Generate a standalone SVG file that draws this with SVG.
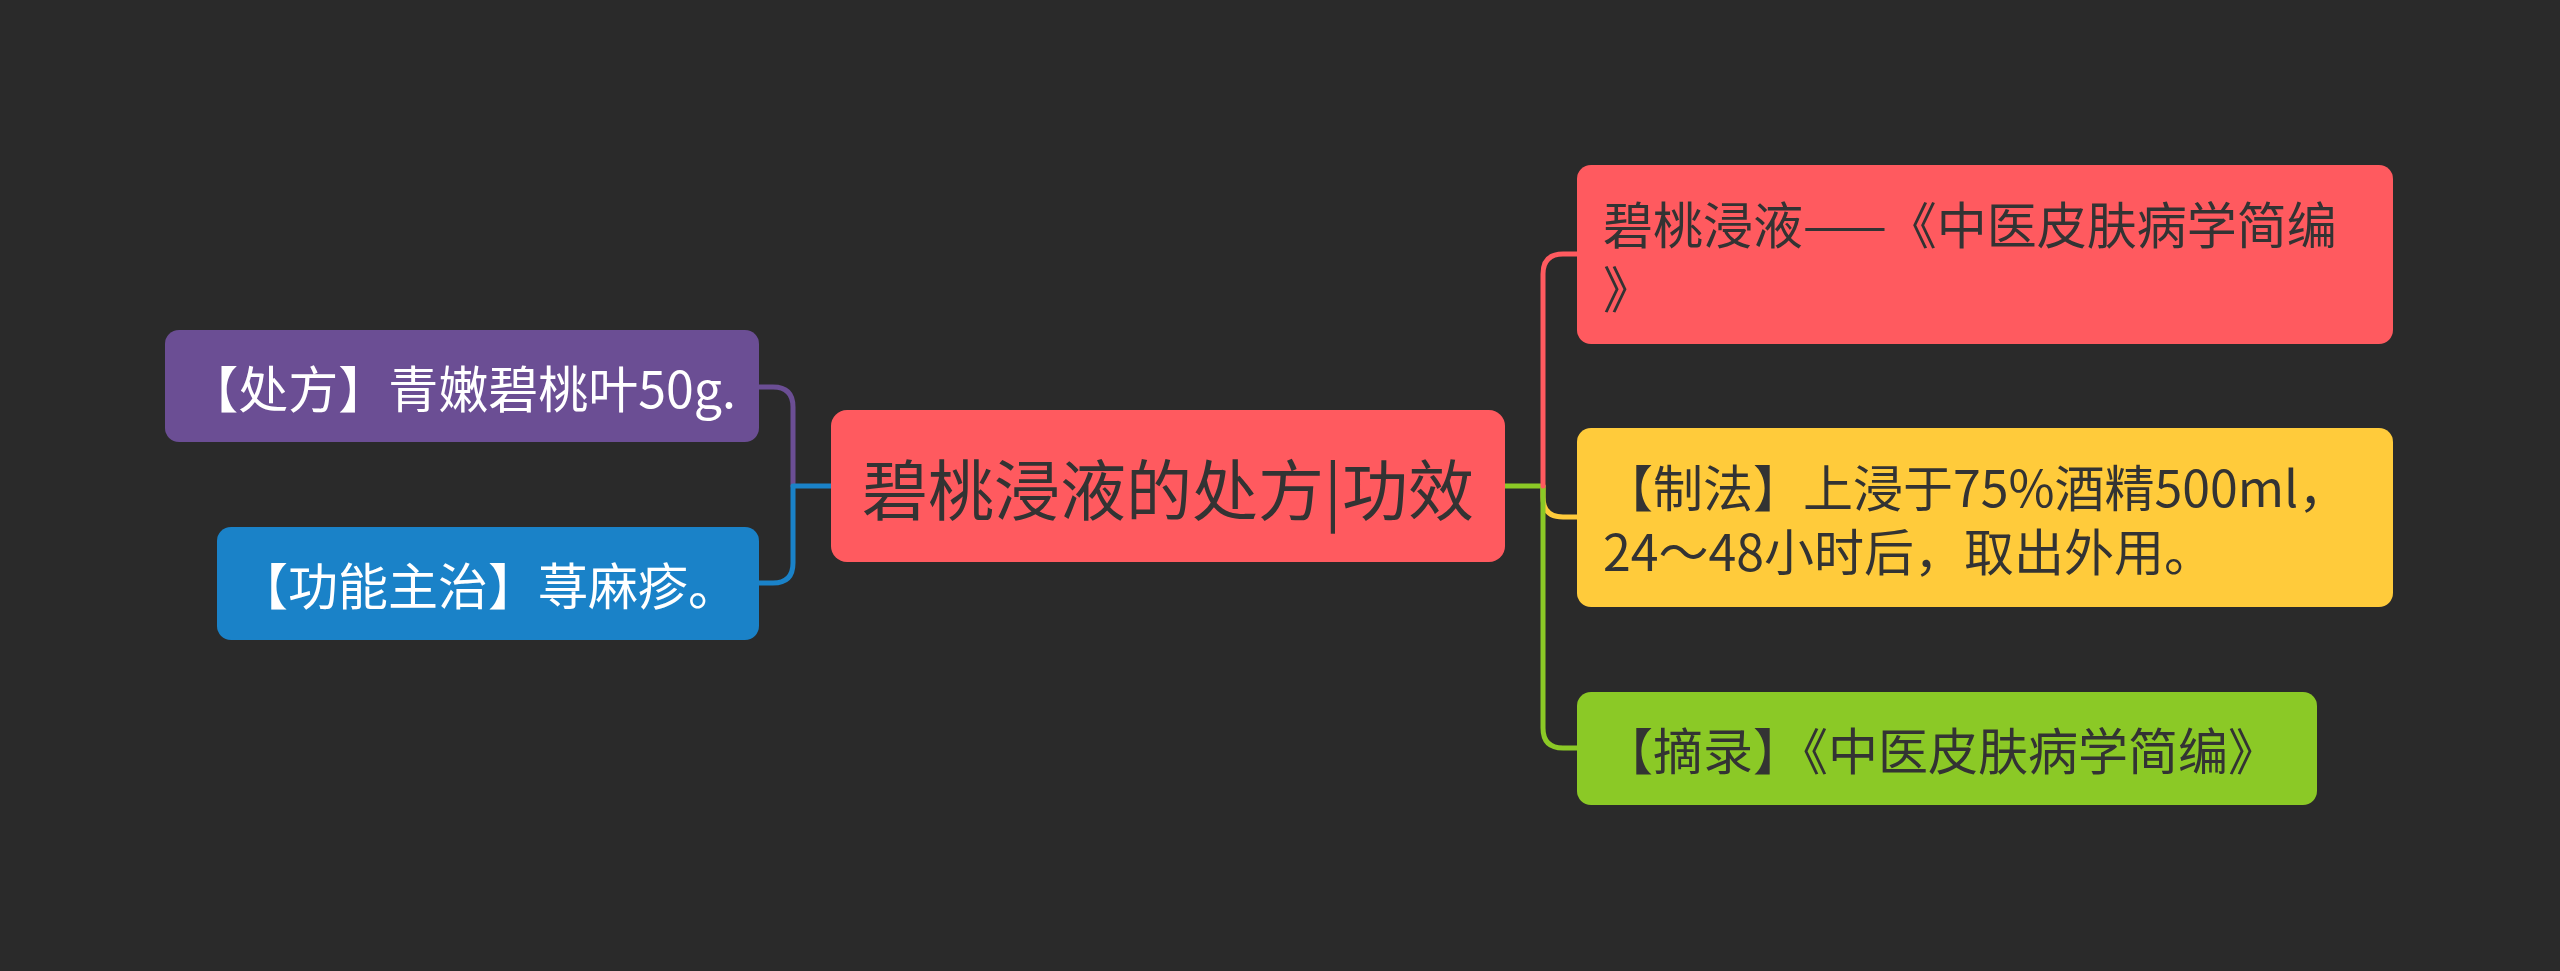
<svg xmlns="http://www.w3.org/2000/svg" width="2560" height="971" viewBox="0 0 2560 971">
<style>
text{font-family:"Noto Sans CJK SC","Noto Sans",sans-serif;dominant-baseline:central}
.t{font-size:50px}
.dark{fill:#333333}
.light{fill:#ffffff}
.c{fill:none;stroke-width:5;stroke-linecap:round;stroke-linejoin:round}
</style>
<rect width="2560" height="971" fill="#2a2a2a"/>
<g id="connectors">
<path class="c" stroke="#6b4e94" d="M793,486 L793,407 Q793,387 773,387 L759,387"/>
<path class="c" stroke="#1a82c8" d="M831,486 L793,486 L793,563 Q793,583 773,583 L759,583"/>
<path class="c" stroke="#ffcb3b" d="M1543,486 L1543,497 Q1543,517 1563,517 L1577,517"/>
<path class="c" stroke="#8bc926" d="M1505,486 L1543,486 L1543,728 Q1543,748 1563,748 L1577,748"/>
<path class="c" stroke="#ff5a5f" d="M1543,486 L1543,274 Q1543,254 1563,254 L1577,254"/>
</g>
<g id="center">
<rect x="831" y="410" width="674" height="152" rx="16" fill="#ff5a5f"/>
<text x="1168" y="486" font-size="66" text-anchor="middle" class="dark">碧桃浸液的处方|功效</text>
</g>
<g id="n-chufang">
<rect x="165" y="330" width="594" height="112" rx="14" fill="#6b4e94"/>
<text x="462" y="386" text-anchor="middle" class="t light">【处方】青嫩碧桃叶50g.</text>
</g>
<g id="n-gongneng">
<rect x="217" y="527" width="542" height="113" rx="14" fill="#1a82c8"/>
<text x="488" y="583" text-anchor="middle" class="t light">【功能主治】荨麻疹。</text>
</g>
<g id="n-source">
<rect x="1577" y="165" width="816" height="179" rx="14" fill="#ff5a5f"/>
<text x="1603" y="222" class="t dark">碧桃浸液——《中医皮肤病学简编</text>
<text x="1603" y="286" class="t dark">》</text>
</g>
<g id="n-zhifa">
<rect x="1577" y="428" width="816" height="179" rx="14" fill="#ffcb3b"/>
<text x="1603" y="485" class="t dark">【制法】上浸于75%酒精500ml，</text>
<text x="1603" y="549" class="t dark">24～48小时后，取出外用。</text>
</g>
<g id="n-zhailu">
<rect x="1577" y="692" width="740" height="113" rx="14" fill="#8bc926"/>
<text x="1603" y="748" class="t dark">【摘录】《中医皮肤病学简编》</text>
</g>
</svg>
